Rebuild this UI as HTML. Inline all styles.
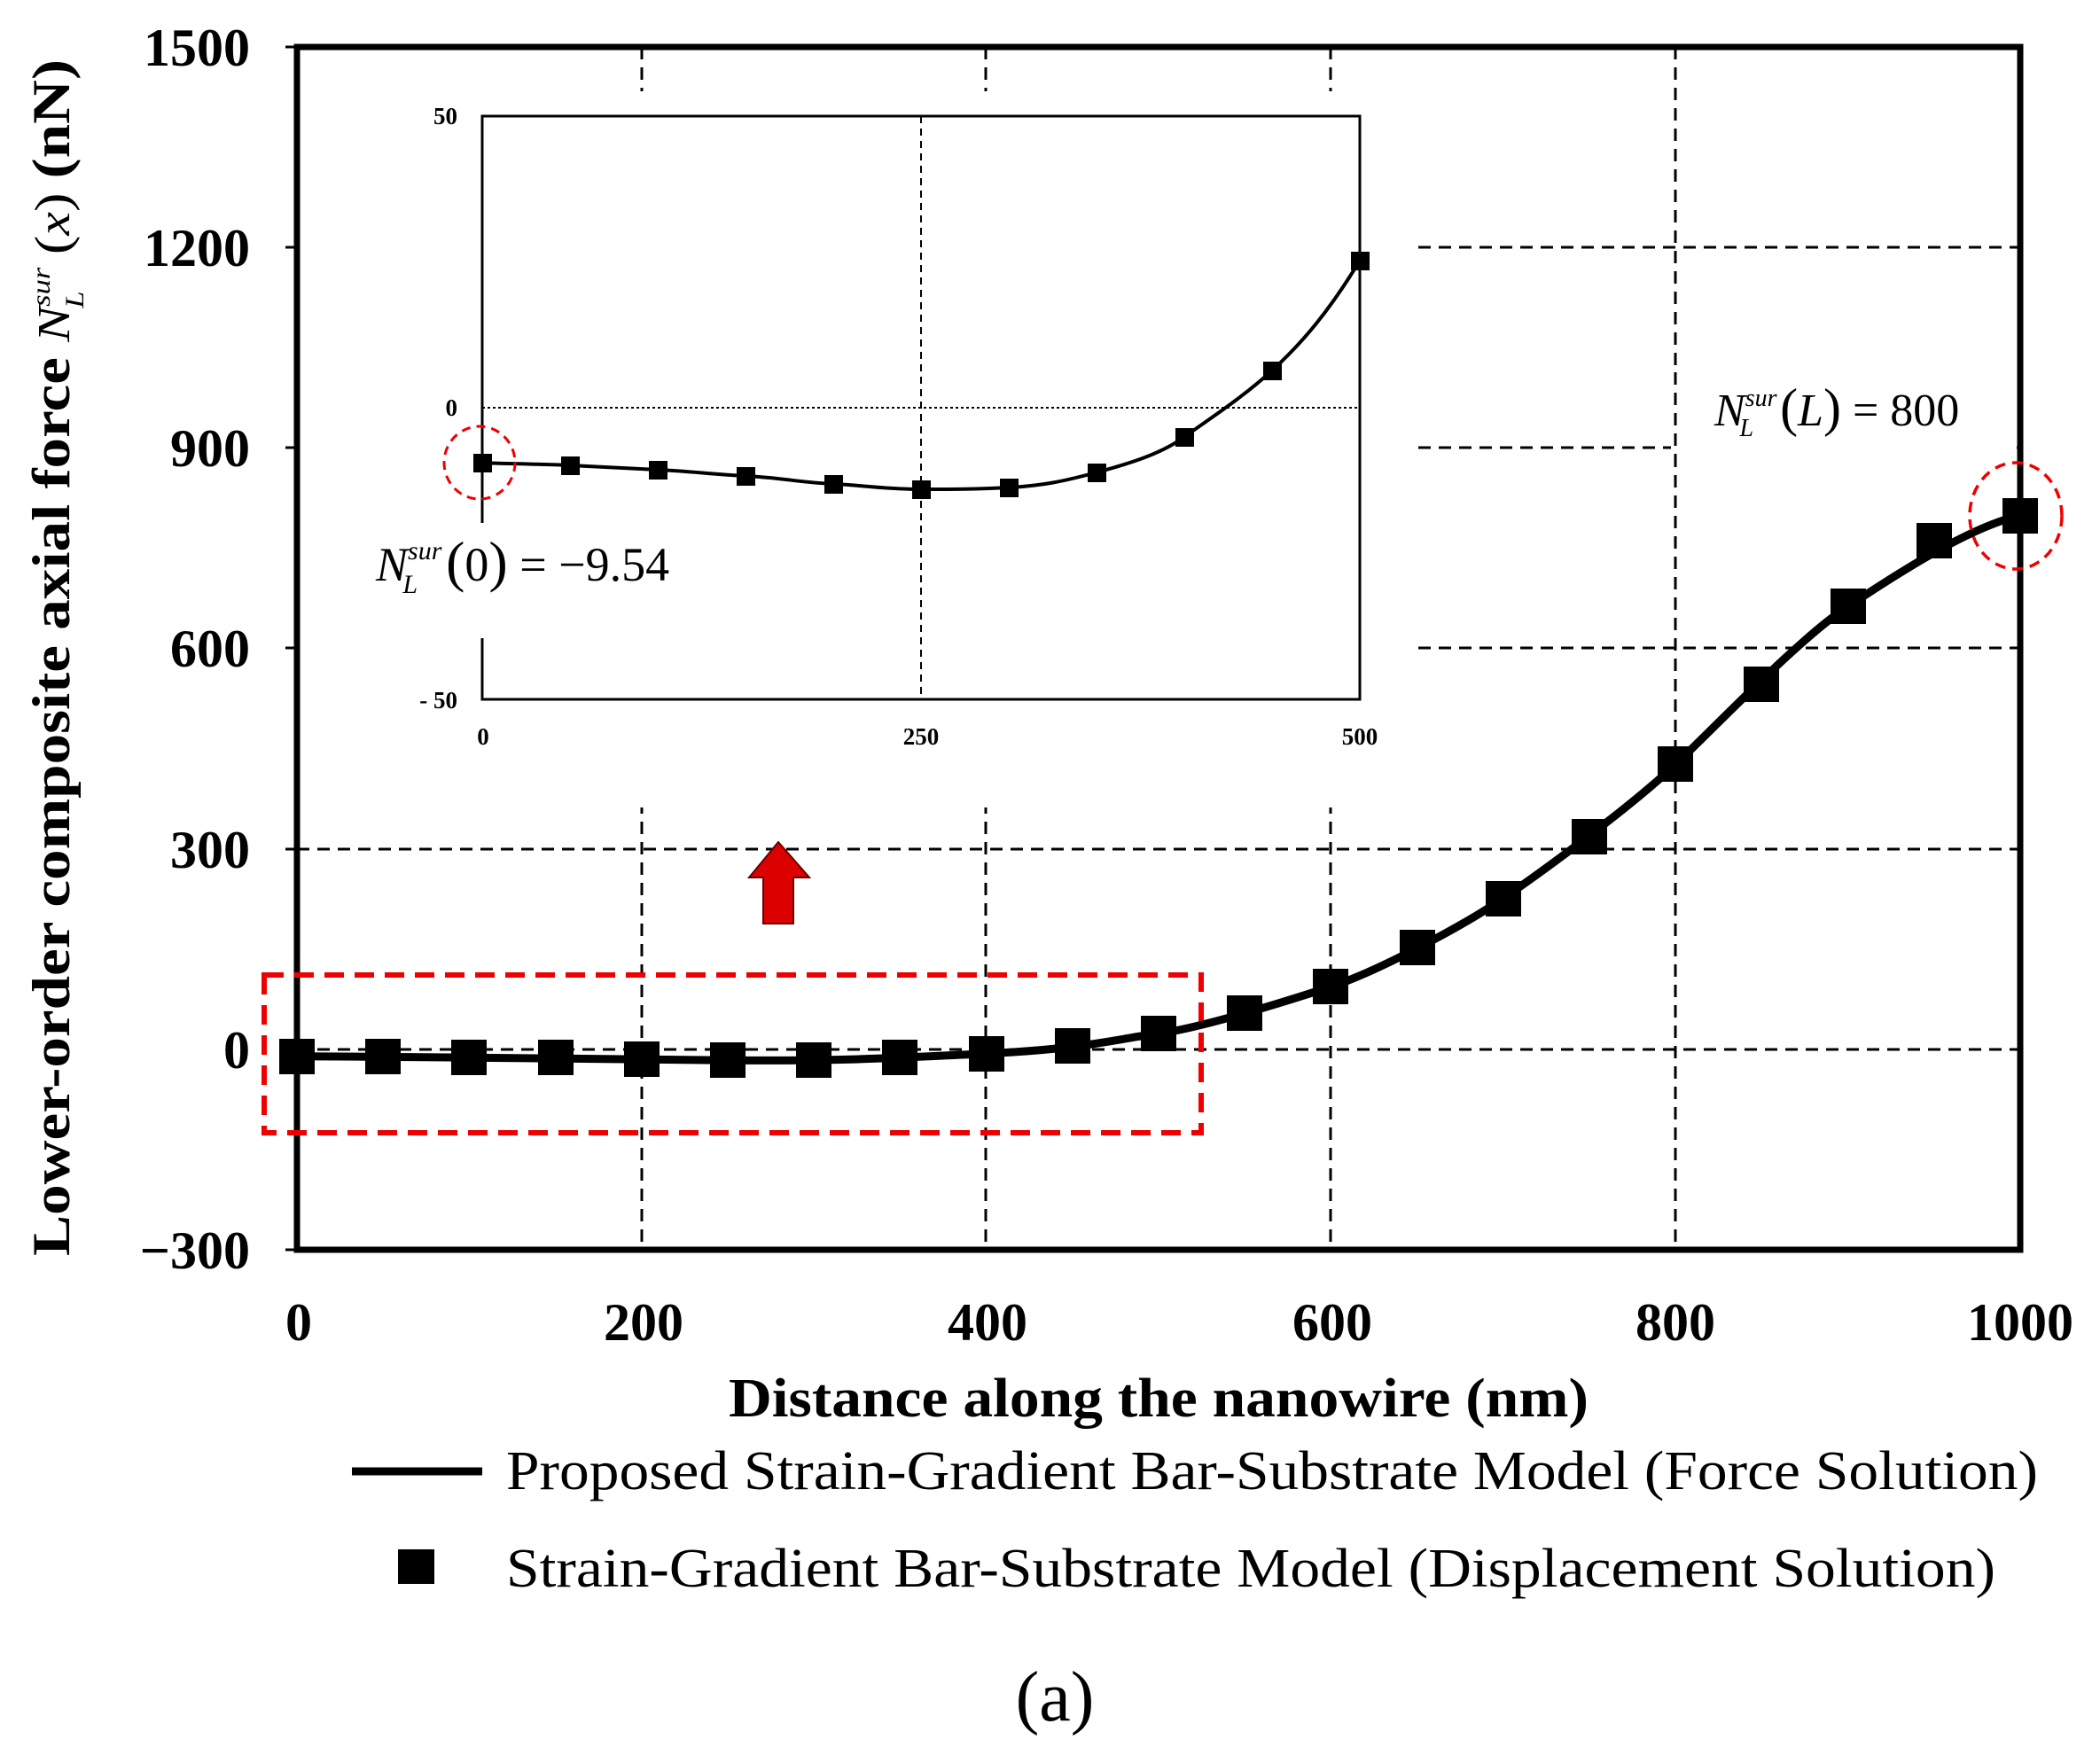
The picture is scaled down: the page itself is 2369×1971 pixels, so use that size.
<!DOCTYPE html>
<html><head><meta charset="utf-8"><style>
html,body{margin:0;padding:0;background:#fff;}
svg{display:block;}
</style></head><body>
<svg width="2369" height="1971" viewBox="0 0 2369 1971" xmlns="http://www.w3.org/2000/svg" font-family="Liberation Serif, serif">
<rect width="2369" height="1971" fill="#fff"/>
<!-- grid -->
<g stroke="#000" stroke-width="3" stroke-dasharray="14,9" fill="none">
<line x1="724" y1="53" x2="724" y2="1410"/>
<line x1="1112" y1="53" x2="1112" y2="1410"/>
<line x1="1501" y1="53" x2="1501" y2="1410"/>
<line x1="1890" y1="53" x2="1890" y2="1410"/>
<line x1="335" y1="279" x2="2279" y2="279"/>
<line x1="335" y1="505" x2="2279" y2="505"/>
<line x1="335" y1="731" x2="2279" y2="731"/>
<line x1="335" y1="958" x2="2279" y2="958"/>
<line x1="335" y1="1184" x2="2279" y2="1184"/>
</g>
<!-- white masks -->
<rect x="338" y="103" width="1261" height="808" fill="#fff"/>
<rect x="1885" y="420" width="390" height="95" fill="#fff"/>
<line x1="1890" y1="420" x2="1890" y2="515" stroke="#000" stroke-width="3" stroke-dasharray="14,9"/>
<!-- main axes -->
<rect x="335" y="53" width="1944" height="1357" fill="none" stroke="#000" stroke-width="7"/>
<g stroke="#000" stroke-width="3">
<line x1="322" y1="53" x2="335" y2="53"/><line x1="322" y1="279" x2="335" y2="279"/>
<line x1="322" y1="505" x2="335" y2="505"/><line x1="322" y1="731" x2="335" y2="731"/>
<line x1="322" y1="958" x2="335" y2="958"/><line x1="322" y1="1184" x2="335" y2="1184"/>
<line x1="322" y1="1410" x2="335" y2="1410"/>
</g>
<g font-size="60" font-weight="bold" text-anchor="end">
<text x="282" y="74">1500</text><text x="282" y="300">1200</text>
<text x="282" y="526">900</text><text x="282" y="752">600</text>
<text x="282" y="979">300</text><text x="282" y="1205">0</text>
<text x="282" y="1431">−300</text>
</g>
<g font-size="60" font-weight="bold" text-anchor="middle">
<text x="337" y="1512">0</text><text x="726" y="1512">200</text>
<text x="1114" y="1512">400</text><text x="1503" y="1512">600</text>
<text x="1890" y="1512">800</text><text x="2279" y="1512">1000</text>
</g>
<text x="1307" y="1598" font-size="62" font-weight="bold" text-anchor="middle" textLength="970" lengthAdjust="spacingAndGlyphs">Distance along the nanowire (nm)</text>
<g transform="translate(78,742) rotate(-90)">
<text x="0" y="0" font-size="60" text-anchor="middle" textLength="1350" lengthAdjust="spacingAndGlyphs"><tspan font-weight="bold">Lower-order composite axial force  </tspan><tspan font-style="italic" font-size="52">N</tspan><tspan font-style="italic" font-size="30" dy="-22">sur</tspan><tspan font-style="italic" font-size="30" dy="38" dx="-40">L</tspan><tspan dy="-16" dx="22" font-size="56"> (</tspan><tspan font-style="italic" font-size="52">x</tspan><tspan font-size="56">) </tspan><tspan font-weight="bold">(nN)</tspan></text>
</g>
<!-- red box + arrow -->
<rect x="298" y="1100" width="1057" height="178" fill="none" stroke="#e00" stroke-width="6" stroke-dasharray="22,12"/>
<polygon points="878,950 913,990 895,990 895,1042 861,1042 861,990 845,990" fill="#d00" stroke="#600" stroke-width="2"/>
<!-- main curve -->
<path d="M335,1191.7 C400,1192 460,1192.5 529.4,1193.2 S700,1195 821,1196.2 S1000,1194 1112.6,1188.7 S1260,1172 1307,1166 S1450,1130 1501.4,1113.2 S1650,1045 1695.8,1013.5 S1840,910 1890.2,862.4 S2030,720 2084.6,684.2 S2220,595 2279,581.5" fill="none" stroke="#000" stroke-width="9"/>
<g fill="#000">
<rect x="315" y="1172" width="40" height="40"/><rect x="412" y="1172" width="40" height="40"/>
<rect x="509" y="1173" width="40" height="40"/><rect x="607" y="1173" width="40" height="40"/>
<rect x="704" y="1175" width="40" height="40"/><rect x="801" y="1176" width="40" height="40"/>
<rect x="898" y="1176" width="40" height="40"/><rect x="995" y="1173" width="40" height="40"/>
<rect x="1093" y="1169" width="40" height="40"/><rect x="1190" y="1160" width="40" height="40"/>
<rect x="1287" y="1146" width="40" height="40"/><rect x="1384" y="1123" width="40" height="40"/>
<rect x="1481" y="1093" width="40" height="40"/><rect x="1579" y="1049" width="40" height="40"/>
<rect x="1676" y="994" width="40" height="40"/><rect x="1773" y="924" width="40" height="40"/>
<rect x="1870" y="842" width="40" height="40"/><rect x="1967" y="752" width="40" height="40"/>
<rect x="2065" y="664" width="40" height="40"/><rect x="2162" y="590" width="40" height="40"/>
<rect x="2259" y="562" width="40" height="40"/>
</g>
<ellipse cx="2274" cy="582" rx="52" ry="60" fill="none" stroke="#e00" stroke-width="3.5" stroke-dasharray="12,8"/>
<text x="1934" y="480" font-size="52"><tspan font-style="italic">N</tspan><tspan font-style="italic" font-size="28" dy="-22">sur</tspan><tspan font-style="italic" font-size="28" dy="34" dx="-42">L</tspan><tspan dy="-12" dx="30" font-size="60">(</tspan><tspan font-style="italic">L</tspan><tspan font-size="60">)</tspan><tspan> = 800</tspan></text>
<!-- inset -->
<line x1="1039" y1="131" x2="1039" y2="789" stroke="#000" stroke-width="2" stroke-dasharray="8,6"/>
<line x1="544" y1="460" x2="1534" y2="460" stroke="#000" stroke-width="2" stroke-dasharray="3,3"/>
<rect x="544" y="131" width="990" height="658" fill="none" stroke="#000" stroke-width="3"/>
<rect x="536" y="590" width="20" height="130" fill="#fff"/>
<g font-size="27" font-weight="bold">
<text x="516" y="140" text-anchor="end">50</text>
<text x="516" y="469" text-anchor="end">0</text>
<text x="516" y="799" text-anchor="end">- 50</text>
<text x="545" y="840" text-anchor="middle">0</text>
<text x="1039" y="840" text-anchor="middle">250</text>
<text x="1534" y="840" text-anchor="middle">500</text>
</g>
<path d="M544,522.4 C600,523.5 620,524 643,525 S700,528 742,530 S800,535 841,537 S900,544 940,546 S1000,552 1039,552 S1100,552 1138,550 S1200,543 1237,533 S1310,512 1336,493 S1400,450 1435,418 S1500,350 1534,294" fill="none" stroke="#000" stroke-width="4"/>
<g fill="#000">
<rect x="534" y="512" width="21" height="21"/><rect x="633" y="515" width="21" height="21"/>
<rect x="732" y="520" width="21" height="21"/><rect x="831" y="527" width="21" height="21"/>
<rect x="930" y="536" width="21" height="21"/><rect x="1029" y="542" width="21" height="21"/>
<rect x="1128" y="540" width="21" height="21"/><rect x="1227" y="523" width="21" height="21"/>
<rect x="1326" y="483" width="21" height="21"/><rect x="1425" y="408" width="21" height="21"/>
<rect x="1524" y="284" width="21" height="21"/>
</g>
<ellipse cx="541" cy="522" rx="40" ry="41" fill="none" stroke="#e00" stroke-width="3" stroke-dasharray="10,7"/>
<text x="424" y="655" font-size="54"><tspan font-style="italic">N</tspan><tspan font-style="italic" font-size="30" dy="-24">sur</tspan><tspan font-style="italic" font-size="30" dy="38" dx="-44">L</tspan><tspan dy="-14" dx="32" font-size="64">(</tspan><tspan>0</tspan><tspan font-size="64">)</tspan><tspan> = −9.54</tspan></text>
<!-- legend -->
<line x1="397" y1="1660" x2="544" y2="1660" stroke="#000" stroke-width="9"/>
<text x="571" y="1680" font-size="62" textLength="1728" lengthAdjust="spacingAndGlyphs">Proposed Strain-Gradient Bar-Substrate Model (Force Solution)</text>
<rect x="449" y="1748" width="41" height="39" fill="#000"/>
<text x="571" y="1790" font-size="62" textLength="1680" lengthAdjust="spacingAndGlyphs">Strain-Gradient Bar-Substrate Model (Displacement Solution)</text>
<text x="1190" y="1941" font-size="80" text-anchor="middle">(a)</text>
</svg>
</body></html>
